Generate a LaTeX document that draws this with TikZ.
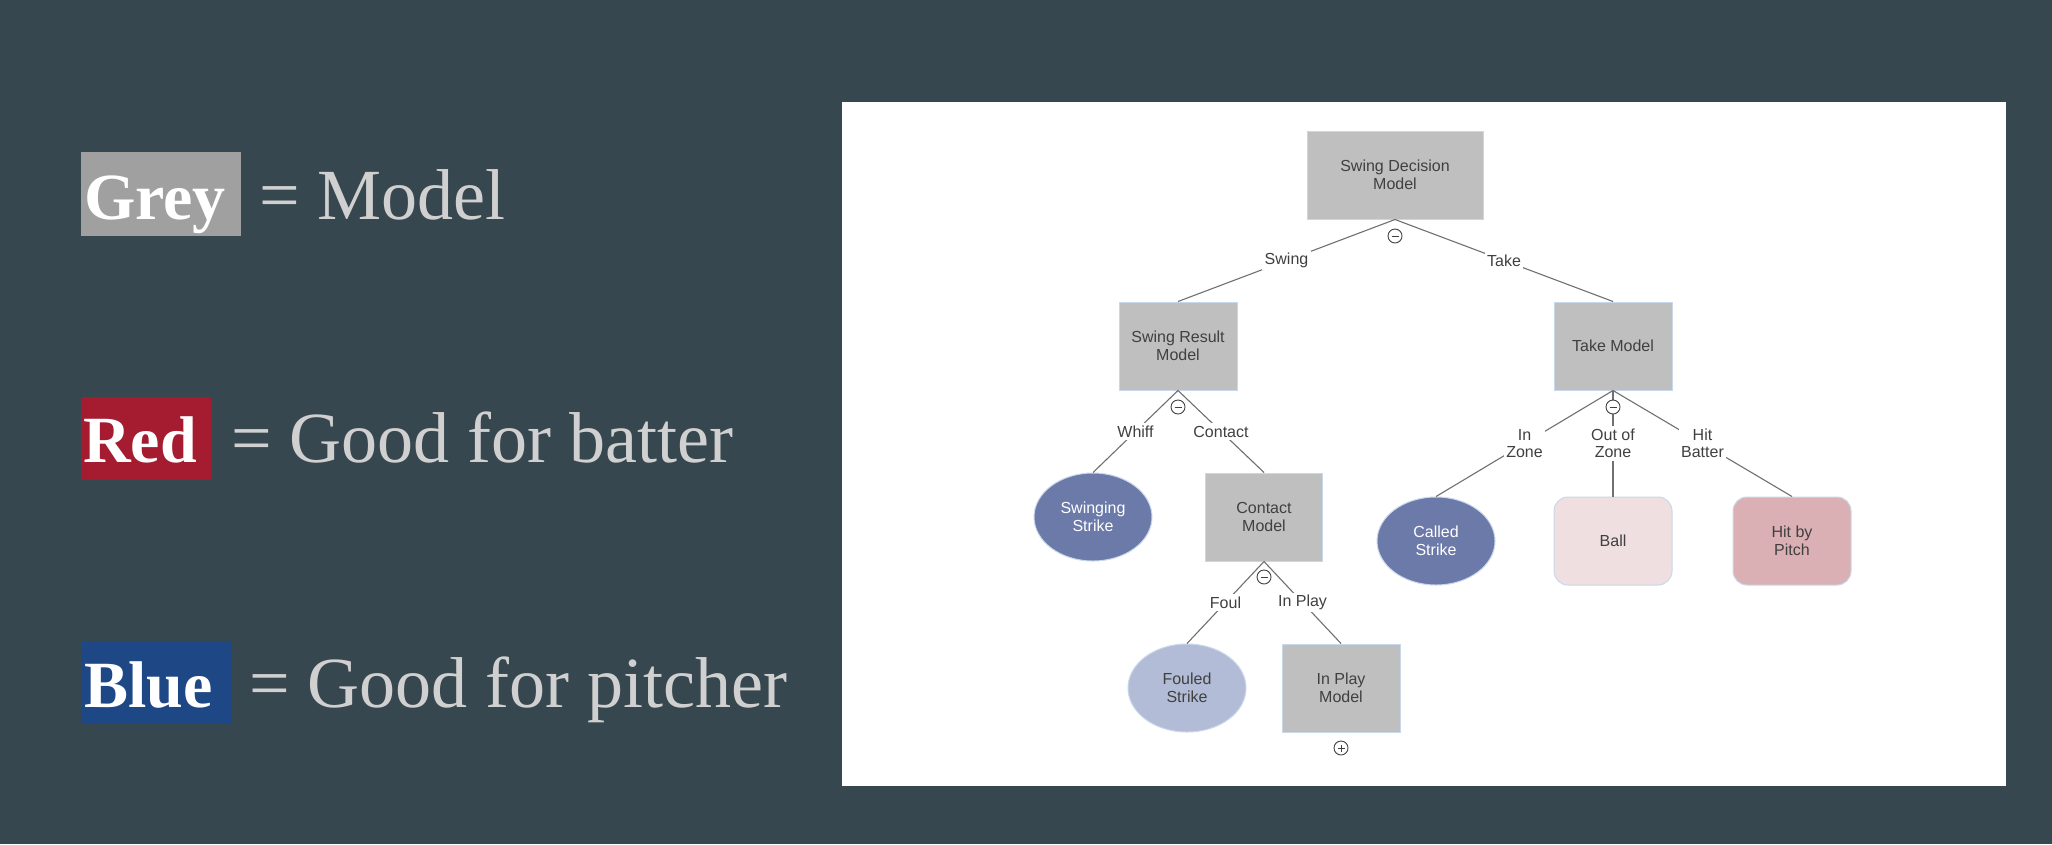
\documentclass[tikz,border=0pt]{standalone}
\usepackage{fontspec}
\setmainfont{Liberation Sans}
\newfontfamily\legfont{Liberation Serif}
\usetikzlibrary{shapes.geometric}
\definecolor{bgc}{HTML}{37474F}
\definecolor{leggrey}{HTML}{A0A0A0}
\definecolor{legred}{HTML}{A51C30}
\definecolor{legblue}{HTML}{1E4785}
\definecolor{legtext}{HTML}{D0D0D0}
\definecolor{modelgrey}{HTML}{BFBFBF}
\definecolor{rim}{HTML}{C8D8EA}
\definecolor{txtgrey}{HTML}{404040}
\definecolor{darkblue}{HTML}{6B7AA8}
\definecolor{lightblue}{HTML}{B2BCD6}
\definecolor{lightpink}{HTML}{EFDFE0}
\definecolor{pink}{HTML}{DBB0B5}
\definecolor{linegrey}{HTML}{707070}
\tikzset{
  diag/.style={font=\fontsize{16}{18}\selectfont, align=center, inner sep=0pt},
  model/.style={diag, rectangle, fill=modelgrey, draw=rim, line width=1pt, minimum width=118pt, minimum height=88pt, text=txtgrey},
  oval/.style={diag, ellipse, draw=rim, line width=1pt, minimum width=118pt, minimum height=88pt},
  rbox/.style={diag, rectangle, rounded corners=14pt, draw=rim, line width=1pt, minimum width=118pt, minimum height=88pt, text=txtgrey},
  edge/.style={draw=linegrey, line width=1.1pt},
  lbl/.style={font=\fontsize{16}{17.5}\selectfont, align=center, fill=white, inner sep=2.5pt, text=txtgrey},
  sym/.style={circle, draw=black!75, fill=white, line width=0.9pt, minimum size=14pt, inner sep=0pt},
  legword/.style={anchor=base west, inner sep=0pt, text=white, font=\legfont\bfseries\fontsize{66}{74}\selectfont},
  legdesc/.style={anchor=base west, inner sep=0pt, text=legtext, font=\legfont\fontsize{72}{80}\selectfont}
}
\begin{document}
\begin{tikzpicture}[x=1pt,y=-1pt]
\useasboundingbox (0,0) rectangle (2052,844);
\fill[bgc] (0,0) rectangle (2052,844);
\fill[white] (842,102) rectangle (2006,786);

% legend
\fill[leggrey] (81,152) rectangle (241,236);
\node[legword] (wgrey) at (84,219) {Grey};
\node[legdesc] (dgrey) at (259,219) {= Model};
\fill[legred] (81,397) rectangle (211,480);
\node[legword] (wred) at (83,462) {Red};
\node[legdesc] (dred) at (231,462) {= Good for batter};
\fill[legblue] (81,641) rectangle (232,724);
\node[legword] (wblue) at (84,707) {Blue};
\node[legdesc] (dblue) at (249,707) {= Good for pitcher};

% tree nodes
\node[model, minimum width=176pt] (sdm) at (1395,175) {Swing Decision\\Model};
\node[model] (srm) at (1178,346) {Swing Result\\Model};
\node[model] (tm) at (1613,346) {Take Model};
\node[oval, fill=darkblue, text=white] (ss) at (1093,517) {Swinging\\Strike};
\node[model, minimum width=117pt] (cm) at (1264,517) {Contact\\Model};
\node[oval, fill=darkblue, text=white] (cs) at (1436,541) {Called\\Strike};
\node[rbox, fill=lightpink] (ball) at (1613,541) {Ball};
\node[rbox, fill=pink] (hbp) at (1792,541) {Hit by\\Pitch};
\node[oval, fill=lightblue, text=txtgrey] (fs) at (1187,688) {Fouled\\Strike};
\node[model] (ipm) at (1341,688) {In Play\\Model};

% edges
\draw[edge] (sdm.south) -- node[lbl] (lswing) {Swing} (srm.north);
\draw[edge] (sdm.south) -- node[lbl] (ltake) {Take} (tm.north);
\draw[edge] (srm.south) -- node[lbl] (lwhiff) {Whiff} (ss.north);
\draw[edge] (srm.south) -- node[lbl] (lcontact) {Contact} (cm.north);
\draw[edge] (cm.south) -- node[lbl] (lfoul) {Foul} (fs.north);
\draw[edge] (cm.south) -- node[lbl] (linplay) {In Play} (ipm.north);
\draw[edge] (tm.south) -- node[lbl] (linzone) {In\\Zone} (cs.north);
\draw[edge] (tm.south) -- node[lbl] (loutzone) {Out of\\Zone} (ball.north);
\draw[edge] (tm.south) -- node[lbl] (lhit) {Hit\\Batter} (hbp.north);

% collapse / expand symbols
\foreach \nm/\px/\py in {m1/1395/236, m2/1178/407, m3/1264/577, m4/1613/407} {
  \node[sym] (\nm) at (\px,\py) {};
  \draw[black!75, line width=1pt] ([xshift=-3.5pt]\nm.center) -- ([xshift=3.5pt]\nm.center);
}
\node[sym] (p1) at (1341,748) {};
\draw[black!75, line width=1pt] ([xshift=-3.5pt]p1.center) -- ([xshift=3.5pt]p1.center);
\draw[black!75, line width=1pt] ([yshift=-3.5pt]p1.center) -- ([yshift=3.5pt]p1.center);
\end{tikzpicture}
\end{document}
